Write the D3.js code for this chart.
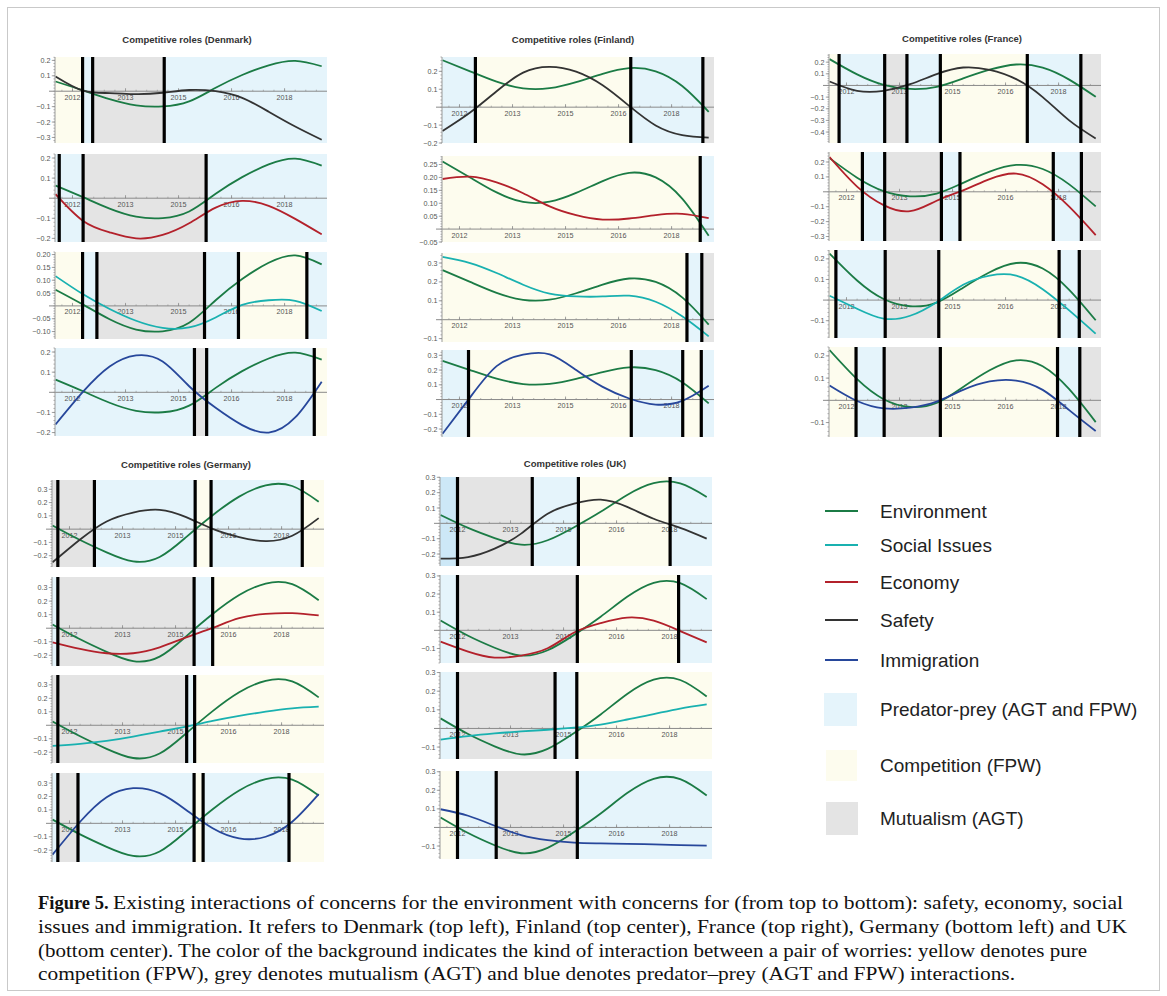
<!DOCTYPE html>
<html><head><meta charset="utf-8">
<script src="https://cdn.jsdelivr.net/npm/d3@7"></script>
<style>body{margin:0;background:#fff}svg{display:block}</style>
</head><body>
<svg id="chart" width="1167" height="996"></svg>
<script>
// ---------- DATA ----------
const tSamples = [-0.32, 0.2, 0.7, 1.2, 1.7, 2.2, 2.7, 3.2, 3.7, 4.2, 4.7];
const yearTicks = [0, 1, 2, 3, 4];
const yearLabels = ["2012", "2013", "2015", "2016", "2018"];
const countries = ["Denmark", "Finland", "France", "Germany", "UK"];
const seriesNames = ["Environment", "Social Issues", "Economy", "Safety", "Immigration"];
const regimeNames = ["Predator-prey (AGT and FPW)", "Competition (FPW)", "Mutualism (AGT)"];
const regimeCodes = ["P", "C", "M"];

// Denmark
const envDenmark = [0.063, 0.005, -0.052, -0.092, -0.099, -0.066, 0.022, 0.105, 0.168, 0.197, 0.162];
const safetyDenmark = [0.096, 0.004, -0.012, -0.019, -0.01, 0.008, 0.0, -0.043, -0.133, -0.229, -0.315];
const economyDenmark = [0.02, -0.113, -0.17, -0.2, -0.183, -0.125, -0.047, -0.013, -0.038, -0.103, -0.18];
const socialDenmark = [0.116, 0.045, -0.012, -0.058, -0.086, -0.084, -0.045, 0.004, 0.022, 0.02, -0.02];
const immigrationDenmark = [-0.16, 0.003, 0.128, 0.183, 0.153, 0.03, -0.077, -0.163, -0.2, -0.125, 0.053];
const yDomainsDenmark = [[-0.336, 0.222], [-0.218, 0.22], [-0.129, 0.21], [-0.217, 0.22]];
const yTicksDenmark = [[0.2, 0.1, -0.1, -0.2, -0.3], [0.2, 0.1, -0.1, -0.2], [0.2, 0.15, 0.1, 0.05, -0.05, -0.1], [0.2, 0.1, -0.1, -0.2]];
const switchesDenmark = [[0.19, 0.38, 1.73], [-0.25, 0.2, 2.52], [0.19, 0.46, 2.49, 3.13, 4.42], [2.3, 2.53, 4.56]];
const regimesDenmark = [["C", "P", "M", "P"], ["P", "P", "M", "P"], ["C", "P", "M", "P", "C", "P"], ["P", "M", "P", "C"]];

// Finland
const envFinland = [0.262, 0.2, 0.142, 0.105, 0.106, 0.14, 0.186, 0.218, 0.2, 0.118, -0.026];
const safetyFinland = [-0.133, -0.03, 0.089, 0.193, 0.225, 0.198, 0.122, 0.007, -0.102, -0.156, -0.17];
const economyFinland = [0.194, 0.203, 0.181, 0.139, 0.088, 0.054, 0.037, 0.041, 0.054, 0.059, 0.042];
const socialFinland = [0.332, 0.3, 0.247, 0.185, 0.138, 0.123, 0.123, 0.127, 0.095, 0.018, -0.088];
const immigrationFinland = [-0.232, 0.015, 0.227, 0.305, 0.307, 0.2, 0.086, 0.007, -0.034, -0.009, 0.093];
const yDomainsFinland = [[-0.2, 0.28], [-0.05, 0.283], [-0.118, 0.353], [-0.254, 0.336]];
const yTicksFinland = [[0.2, 0.1, -0.1, -0.2], [0.25, 0.2, 0.15, 0.1, 0.05, -0.05], [0.3, 0.2, 0.1, -0.1], [0.3, 0.2, 0.1, -0.1, -0.2]];
const switchesFinland = [[0.3, 3.23, 4.59], [4.54], [4.29, 4.57], [0.17, 3.24, 4.21, 4.56]];
const regimesFinland = [["P", "C", "P", "M"], ["C", "P"], ["C", "P", "M"], ["P", "C", "P", "C", "P"]];

// France
const envFrance = [0.226, 0.095, 0.005, -0.03, -0.012, 0.06, 0.135, 0.18, 0.153, 0.05, -0.098];
const safetyFrance = [0.034, -0.046, -0.046, 0.011, 0.097, 0.154, 0.134, 0.054, -0.1, -0.3, -0.455];
const economyFrance = [0.233, 0.035, -0.089, -0.13, -0.06, 0.01, 0.085, 0.122, 0.05, -0.1, -0.29];
const socialFrance = [0.021, -0.042, -0.09, -0.076, -0.01, 0.074, 0.119, 0.119, 0.053, -0.05, -0.163];
const immigrationFrance = [0.067, -0.003, -0.036, -0.033, -0.006, 0.047, 0.085, 0.089, 0.047, -0.044, -0.138];
const yDomainsFrance = [[-0.494, 0.27], [-0.33, 0.267], [-0.184, 0.243], [-0.165, 0.24]];
const yTicksFrance = [[0.2, 0.1, -0.1, -0.2, -0.3, -0.4], [0.2, 0.1, -0.1, -0.2, -0.3], [0.2, 0.1, -0.1], [0.2, 0.1, -0.1]];
const switchesFrance = [[-0.14, 0.72, 1.14, 1.77, 3.41, 4.42], [0.3, 0.72, 1.79, 2.14, 3.9, 4.43], [-0.2, 0.73, 1.74, 4.01, 4.39], [0.18, 0.71, 1.77, 3.98, 4.4]];
const regimesFrance = [["C", "P", "M", "P", "C", "P", "M"], ["C", "P", "M", "P", "C", "P", "M"], ["C", "P", "M", "C", "P", "M"], ["C", "P", "M", "C", "P", "M"]];

// Germany
const envGermany = [0.028, -0.082, -0.175, -0.243, -0.21, -0.06, 0.105, 0.245, 0.33, 0.325, 0.207];
const safetyGermany = [-0.25, -0.078, 0.058, 0.125, 0.145, 0.09, 0.002, -0.06, -0.09, -0.05, 0.083];
const economyGermany = [-0.104, -0.153, -0.185, -0.185, -0.141, -0.068, 0.002, 0.074, 0.106, 0.111, 0.094];
const socialGermany = [-0.153, -0.138, -0.116, -0.084, -0.047, -0.01, 0.032, 0.069, 0.101, 0.126, 0.138];
const immigrationGermany = [-0.233, 0.012, 0.195, 0.262, 0.225, 0.1, -0.037, -0.112, -0.1, 0.012, 0.218];
const yDomainsGermany = [[-0.285, 0.37], [-0.279, 0.378], [-0.28, 0.373], [-0.288, 0.375]];
const yTicksGermany = [[0.3, 0.2, 0.1, -0.1, -0.2], [0.3, 0.2, 0.1, -0.1, -0.2], [0.3, 0.2, 0.1, -0.1, -0.2], [0.3, 0.2, 0.1, -0.1, -0.2]];
const switchesGermany = [[-0.22, 0.47, 2.37, 2.67, 4.39], [-0.22, 2.35, 2.7], [-0.22, 2.21, 2.36], [-0.22, 0.16, 2.35, 2.52, 4.14]];
const regimesGermany = [["M", "M", "P", "C", "P", "C"], ["P", "M", "P", "C"], ["M", "M", "P", "C"], ["P", "M", "P", "C", "P", "C"]];

// UK
const envUK = [0.054, -0.03, -0.096, -0.139, -0.11, -0.025, 0.075, 0.185, 0.262, 0.26, 0.172];
const safetyUK = [-0.23, -0.22, -0.165, -0.067, 0.063, 0.128, 0.154, 0.107, 0.03, -0.03, -0.1];
const economyUK = [-0.062, -0.117, -0.15, -0.139, -0.099, -0.012, 0.04, 0.07, 0.053, -0.004, -0.066];
const socialUK = [-0.06, -0.041, -0.027, -0.016, -0.007, 0.004, 0.021, 0.048, 0.077, 0.107, 0.129];
const immigrationUK = [0.098, 0.063, 0.009, -0.041, -0.068, -0.082, -0.086, -0.089, -0.091, -0.095, -0.098];
const yDomainsUK = [[-0.278, 0.302], [-0.18, 0.305], [-0.164, 0.303], [-0.17, 0.304]];
const yTicksUK = [[0.3, 0.2, 0.1, -0.1, -0.2], [0.3, 0.2, 0.1, -0.1], [0.3, 0.2, 0.1, -0.1], [0.3, 0.2, 0.1, -0.1]];
const switchesUK = [[0, 1.41, 2.28, 4.01], [0, 2.26, 4.17], [0, 1.84, 2.25], [0, 0.73, 2.26]];
const regimesUK = [["PP", "M", "P", "C", "P"], ["P", "M", "C", "P"], ["P", "M", "P", "C"], ["C", "P", "M", "P"]];

const captionBold = "Figure 5.";
const captionLines = [
  "Existing interactions of concerns for the environment with concerns for (from top to bottom): safety, economy, social",
  "issues and immigration. It refers to Denmark (top left), Finland (top center), France (top right), Germany (bottom left) and UK",
  "(bottom center). The color of the background indicates the kind of interaction between a pair of worries: yellow denotes pure",
  "competition (FPW), grey denotes mutualism (AGT) and blue denotes predator\u2013prey (AGT and FPW) interactions."
];

// ---------- TABLES BUILT FROM DATA ----------
const countryTable = {
  Denmark: {env: envDenmark, partners: [safetyDenmark, economyDenmark, socialDenmark, immigrationDenmark], yDomains: yDomainsDenmark, yTicks: yTicksDenmark, switches: switchesDenmark, regimes: regimesDenmark},
  Finland: {env: envFinland, partners: [safetyFinland, economyFinland, socialFinland, immigrationFinland], yDomains: yDomainsFinland, yTicks: yTicksFinland, switches: switchesFinland, regimes: regimesFinland},
  France: {env: envFrance, partners: [safetyFrance, economyFrance, socialFrance, immigrationFrance], yDomains: yDomainsFrance, yTicks: yTicksFrance, switches: switchesFrance, regimes: regimesFrance},
  Germany: {env: envGermany, partners: [safetyGermany, economyGermany, socialGermany, immigrationGermany], yDomains: yDomainsGermany, yTicks: yTicksGermany, switches: switchesGermany, regimes: regimesGermany},
  UK: {env: envUK, partners: [safetyUK, economyUK, socialUK, immigrationUK], yDomains: yDomainsUK, yTicks: yTicksUK, switches: switchesUK, regimes: regimesUK}
};

// ---------- STYLE / LAYOUT ----------
const seriesColor = {"Environment": "#1b7b45", "Social Issues": "#19b1b0", "Economy": "#b3212b", "Safety": "#333333", "Immigration": "#27479b"};
const partnerSeries = ["Safety", "Economy", "Social Issues", "Immigration"];
const regimeColor = {P: "#e5f4fb", PP: "#cde8f7", C: "#fdfcee", M: "#e4e4e4"};
const layout = {
  Denmark: {left: 55, tops: [57, 154, 252, 348], bottoms: [143, 242, 339, 436], tx: 187, ty: 43},
  Finland: {left: 442, tops: [57, 156, 253, 350], bottoms: [143, 242, 342, 437], tx: 573, ty: 43},
  France: {left: 829, tops: [54, 152, 250, 347], bottoms: [143, 241, 338, 437], tx: 962, ty: 42},
  Germany: {left: 52, tops: [480, 577, 675, 773], bottoms: [567, 666, 763, 862], tx: 186, ty: 468},
  UK: {left: 440, tops: [477, 575, 672, 771], bottoms: [566, 663, 759, 859], tx: 575, ty: 467}
};
const PW = 272;
const xDomain = [-0.33, 4.8];
const FONT = "'Liberation Sans', Arial, Helvetica, sans-serif";

const svg = d3.select("#chart");
svg.append("rect").attr("x", 7.5).attr("y", 7.5).attr("width", 1152).attr("height", 983)
  .attr("fill", "#fff").attr("stroke", "#c9c9c9").attr("stroke-width", 1);

const fmtMinus = s => s.replace("-", "\u2212");
let clipId = 0;

function drawPanel(g, left, top, bottom, env, partner, pColor, yDom, yTicks, switches, regimes) {
  const x = d3.scaleLinear().domain(xDomain).range([left, left + PW]);
  const y = d3.scaleLinear().domain(yDom).range([bottom, top]);
  const edges = [xDomain[0], ...switches, xDomain[1]];
  g.selectAll(null).data(regimes).join("rect")
    .attr("x", (d, i) => x(edges[i])).attr("y", top)
    .attr("width", (d, i) => Math.max(0, x(edges[i + 1]) - x(edges[i])))
    .attr("height", bottom - top).attr("fill", d => regimeColor[d]);

  const y0 = y(0);
  g.append("line").attr("x1", left - 6).attr("x2", left + PW).attr("y1", y0).attr("y2", y0)
    .attr("stroke", "#8a8a8a").attr("stroke-width", 1);
  const minorX = d3.range(-0.2, 4.8, 0.2);
  g.selectAll(null).data(minorX).join("line")
    .attr("x1", d => x(d)).attr("x2", d => x(d)).attr("y1", y0).attr("y2", y0 - 1.5)
    .attr("stroke", "#8a8a8a").attr("stroke-width", 0.6);
  g.selectAll(null).data(yearTicks).join("line")
    .attr("x1", d => x(d)).attr("x2", d => x(d)).attr("y1", y0).attr("y2", y0 - 3)
    .attr("stroke", "#8a8a8a").attr("stroke-width", 0.8);
  g.selectAll(null).data(yearTicks).join("text")
    .attr("x", d => x(d)).attr("y", y0 + 8.5).attr("text-anchor", "middle")
    .attr("font-family", FONT).attr("font-size", 7.2).attr("fill", "#555")
    .text((d, i) => yearLabels[i]);

  const cid = "clip" + (clipId++);
  g.append("clipPath").attr("id", cid).append("rect")
    .attr("x", left).attr("y", top).attr("width", PW).attr("height", bottom - top);
  const line = d3.line().x((d, i) => x(tSamples[i])).y(d => y(d)).curve(d3.curveNatural);
  const cg = g.append("g").attr("clip-path", `url(#${cid})`);
  cg.append("path").attr("d", line(env)).attr("fill", "none").attr("stroke", seriesColor["Environment"]).attr("stroke-width", 1.8);
  cg.append("path").attr("d", line(partner)).attr("fill", "none").attr("stroke", pColor).attr("stroke-width", 1.8);

  g.selectAll(null).data(switches).join("line")
    .attr("x1", d => x(d)).attr("x2", d => x(d)).attr("y1", top).attr("y2", bottom)
    .attr("stroke", "#000").attr("stroke-width", 3.2);

  g.append("line").attr("x1", left).attr("x2", left).attr("y1", top).attr("y2", bottom)
    .attr("stroke", "#9a9a9a").attr("stroke-width", 1);
  const step = Math.abs(yTicks[0] - yTicks[1]);
  const minor = step / 5;
  const minorY = d3.range(Math.ceil(yDom[0] / minor - 1e-6), Math.floor(yDom[1] / minor + 1e-6) + 1).map(k => k * minor);
  g.selectAll(null).data(minorY).join("line")
    .attr("x1", left - 1.6).attr("x2", left).attr("y1", d => y(d)).attr("y2", d => y(d))
    .attr("stroke", "#8a8a8a").attr("stroke-width", 0.6);
  g.selectAll(null).data(yTicks).join("line")
    .attr("x1", left - 3.2).attr("x2", left).attr("y1", d => y(d)).attr("y2", d => y(d))
    .attr("stroke", "#8a8a8a").attr("stroke-width", 0.8);
  const fmt = d3.format(step < 0.09 ? ".2f" : ".1f");
  g.selectAll(null).data(yTicks).join("text")
    .attr("x", left - 4.5).attr("y", d => y(d)).attr("dy", "0.35em").attr("text-anchor", "end")
    .attr("font-family", FONT).attr("font-size", 7.2).attr("fill", "#555")
    .text(d => fmtMinus(fmt(d)));
}

countries.forEach(c => {
  const L = layout[c], D = countryTable[c];
  const g = svg.append("g");
  g.append("text").attr("x", L.tx).attr("y", L.ty).attr("text-anchor", "middle")
    .attr("font-family", FONT).attr("font-weight", "bold").attr("font-size", 9.5).attr("fill", "#333")
    .text(`Competitive roles (${c})`);
  D.partners.forEach((p, i) => {
    drawPanel(g.append("g"), L.left, L.tops[i], L.bottoms[i], D.env, p, seriesColor[partnerSeries[i]],
      D.yDomains[i], D.yTicks[i], D.switches[i], D.regimes[i]);
  });
});

// legend
const lg = svg.append("g");
const lineYs = [511, 545, 582, 620, 660];
seriesNames.forEach((s, i) => {
  lg.append("line").attr("x1", 825).attr("x2", 858).attr("y1", lineYs[i]).attr("y2", lineYs[i])
    .attr("stroke", seriesColor[s]).attr("stroke-width", 2.2);
  lg.append("text").attr("x", 880).attr("y", lineYs[i]).attr("dy", "0.35em")
    .attr("font-family", FONT).attr("font-size", 19).attr("fill", "#222").text(s);
});
const boxes = [{x: 824, y: 693, w: 33, h: 33}, {x: 826, y: 750, w: 31, h: 31}, {x: 826, y: 802, w: 32, h: 33}];
regimeNames.forEach((r, i) => {
  const b = boxes[i];
  lg.append("rect").attr("x", b.x).attr("y", b.y).attr("width", b.w).attr("height", b.h)
    .attr("fill", regimeColor[regimeCodes[i]]);
  lg.append("text").attr("x", 880).attr("y", b.y + b.h / 2).attr("dy", "0.35em")
    .attr("font-family", FONT).attr("font-size", 19).attr("fill", "#222").text(r);
});

// caption
const capX = 38, capYs = [909, 933, 957, 980], capEnds = [1123, 1127, 1087, 1015];
const SERIF = "'Liberation Serif', 'Times New Roman', serif";
const bold = svg.append("text").attr("x", capX).attr("y", capYs[0])
  .attr("font-family", SERIF).attr("font-weight", "bold").attr("font-size", 18.5).attr("fill", "#111")
  .text(captionBold);
const bw = bold.node().getComputedTextLength();
captionLines.forEach((t, i) => {
  const sx = i === 0 ? capX + bw + 4.5 : capX;
  svg.append("text").attr("x", sx).attr("y", capYs[i])
    .attr("font-family", SERIF).attr("font-size", 18.5).attr("fill", "#111")
    .attr("textLength", capEnds[i] - sx).attr("lengthAdjust", "spacingAndGlyphs")
    .text(t);
});
</script>
</body></html>
